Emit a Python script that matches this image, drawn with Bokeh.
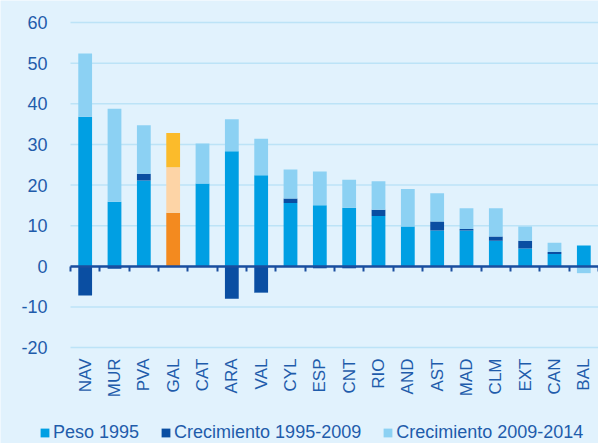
import math
from bokeh.plotting import figure
from bokeh.models import (ColumnDataSource, Range1d, LinearAxis, FixedTicker,
                          Legend, LegendItem)
from bokeh.embed import file_html
from bokeh.resources import INLINE

categories = ["NAV", "MUR", "PVA", "GAL", "CAT", "ARA", "VAL", "CYL", "ESP", "CNT",
              "RIO", "AND", "AST", "MAD", "CLM", "EXT", "CAN", "BAL"]
peso_1995 = [36.8, 15.9, 21.1, 13.2, 20.4, 28.3, 22.4, 15.6, 15.0, 14.4,
             12.4, 9.8, 8.8, 8.8, 6.3, 4.4, 3.0, 5.1]
crec_1995_2009 = [-7.2, -0.6, 1.7, 11.2, 0.0, -8.0, -6.5, 1.1, -0.5, -0.5,
                  1.5, -0.2, 2.2, 0.4, 1.0, 1.9, 0.5, 0.0]
crec_2009_2014 = [15.6, 22.9, 11.9, 8.4, 9.8, 7.9, 9.0, 7.1, 8.3, 6.9,
                  7.0, 9.2, 7.0, 5.1, 7.0, 3.5, 2.3, -1.7]
y_ticks = [-20, -10, 0, 10, 20, 30, 40, 50, 60]
series_names = ["Peso 1995", "Crecimiento 1995-2009", "Crecimiento 2009-2014"]
highlight = "GAL"

BG = "#E1F2FD"
TXT = "#1F5CAB"
blue_cols = ["#009FE3", "#0A4EA2", "#8CD1F3"]
gal_cols = ["#F38A1F", "#FDD4A6", "#FBBB2B"]

# layout (pixels)
W, H = 598, 443
PLOT_LEFT, PLOT_TOP, PLOT_BOTTOM = 70, 22, 347

n = len(categories)
xs = [i + 0.5 for i in range(n)]
ymin, ymax = y_ticks[0], y_ticks[-1]
px_x = (W - PLOT_LEFT) / n
px_y = (PLOT_BOTTOM - PLOT_TOP) / (ymax - ymin)
x_range = Range1d(-PLOT_LEFT / px_x, n)
y_range = Range1d(ymin - (H - PLOT_BOTTOM) / px_y, ymax + PLOT_TOP / px_y)

# stacking: positives stack upward, negatives downward
pos_base = [0.0] * n
neg_base = [0.0] * n
sources = []
for k, vals in enumerate([peso_1995, crec_1995_2009, crec_2009_2014]):
    bottoms, tops, cols = [], [], []
    for i, v in enumerate(vals):
        if v >= 0:
            b = pos_base[i]; t = b + v; pos_base[i] = t
        else:
            b = neg_base[i]; t = b + v; neg_base[i] = t
        bottoms.append(b); tops.append(t)
        cols.append(gal_cols[k] if categories[i] == highlight else blue_cols[k])
    sources.append(ColumnDataSource(dict(x=xs, cat=categories, bottom=bottoms, top=tops, color=cols)))

p = figure(width=W, height=H, x_range=x_range, y_range=y_range,
           x_axis_location=None, y_axis_location=None,
           output_backend="svg", toolbar_location=None,
           min_border_left=0, min_border_right=0, min_border_top=0, min_border_bottom=0)
p.background_fill_color = BG
p.border_fill_color = BG
p.outline_line_color = None
p.grid.visible = False

# horizontal grid lines spanning only the category area
grid_src = ColumnDataSource(dict(y=y_ticks, x0=[0] * len(y_ticks), x1=[n] * len(y_ticks)))
p.segment(x0="x0", x1="x1", y0="y", y1="y", source=grid_src,
          line_color="#BCE3F7", line_width=1.5)

renderers = []
for src in sources:
    r = p.vbar(x="x", bottom="bottom", top="top", width=0.47, source=src,
               fill_color="color", line_color=None)
    renderers.append(r)

# y axis labels
yaxis = LinearAxis(fixed_location=0, ticker=FixedTicker(ticks=y_ticks),
                   major_label_overrides={t: str(t) for t in y_ticks},
                   axis_line_color=None, major_tick_line_color=None,
                   minor_tick_line_color=None, major_label_standoff=17,
                   major_label_text_font="Liberation Sans",
                   major_label_text_font_size="18px",
                   major_label_text_color=TXT)
p.add_layout(yaxis, "left")

# category labels below the chart
xaxis = LinearAxis(fixed_location=ymin, ticker=FixedTicker(ticks=xs),
                   major_label_overrides={x: c for x, c in zip(xs, categories)},
                   axis_line_color=None, major_tick_line_color=None,
                   minor_tick_line_color=None, major_tick_out=0,
                   major_label_standoff=11, major_label_orientation=math.pi / 2,
                   major_label_text_font="Liberation Sans",
                   major_label_text_font_size="17px",
                   major_label_text_color=TXT)
p.add_layout(xaxis, "below")

# zero line with boundary ticks
zero_axis = LinearAxis(fixed_location=0, bounds=(0, n),
                       ticker=FixedTicker(ticks=list(range(n + 1))),
                       axis_line_color="#1A4E9F", axis_line_width=2.5,
                       major_tick_line_color="#1A4E9F", major_tick_line_width=2,
                       major_tick_in=5, major_tick_out=0,
                       minor_tick_line_color=None,
                       major_label_text_alpha=0, major_label_text_font_size="1px")
p.add_layout(zero_axis, "above")

legend = Legend(items=[LegendItem(label=nm, renderers=[r], index=0)
                       for nm, r in zip(series_names, renderers)],
                location=(39, 0), orientation="horizontal",
                border_line_color=None, background_fill_alpha=0,
                padding=0, margin=0, spacing=21,
                glyph_width=11, glyph_height=11, label_standoff=3,
                label_height=20,
                label_text_font="Liberation Sans", label_text_font_size="18px",
                label_text_color=TXT)
p.add_layout(legend, "center")

open("out.html", "w").write(file_html(p, INLINE))
